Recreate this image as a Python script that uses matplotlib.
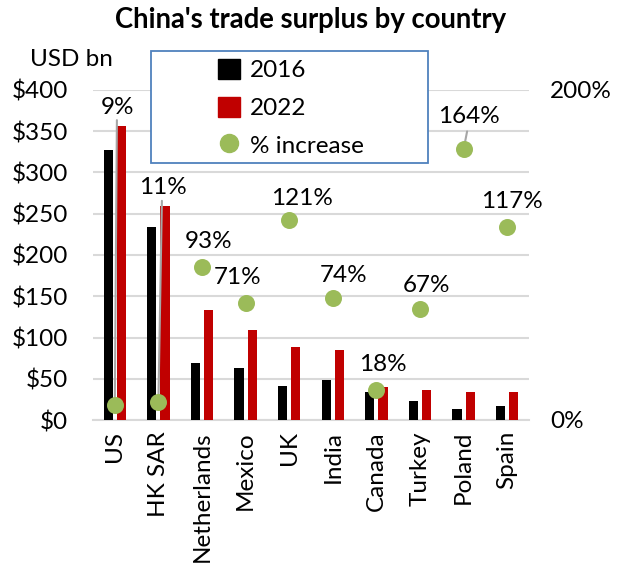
import matplotlib
matplotlib.use("Agg")
import matplotlib.pyplot as plt
from matplotlib.lines import Line2D
from matplotlib.patches import Patch, Rectangle
import numpy as np

countries = ["US", "HK SAR", "Netherlands", "Mexico", "UK", "India",
             "Canada", "Turkey", "Poland", "Spain"]
surplus_2016 = [327, 234, 69, 63, 41, 48, 34, 23, 13, 17]
surplus_2022 = [356, 259, 133, 109, 88, 85, 40, 36, 34, 34]
pct_increase = [9, 11, 93, 71, 121, 74, 18, 67, 164, 117]
left_ticks = [0, 50, 100, 150, 200, 250, 300, 350, 400]
right_ticks = [0, 200]

plt.rcParams['font.family'] = ['Lato', 'DejaVu Sans']
FS = 17.5

W, H = 622, 571
fig = plt.figure(figsize=(W / 100, H / 100), dpi=100)
x0, x1, yb, yt = 93, 529, 420, 90
ax = fig.add_axes([x0 / W, (H - yb) / H, (x1 - x0) / W, (yb - yt) / H])
ax2 = ax.twinx()

x = np.arange(len(countries))
bw = 0.21
ax.bar(x - 0.15, surplus_2016, bw, color="#000000", zorder=3)
ax.bar(x + 0.15, surplus_2022, bw, color="#C00000", zorder=3)
ax.set_xlim(-0.5, len(countries) - 0.5)
ax.set_ylim(0, 400)
ax.set_yticks(left_ticks)
ax.set_yticklabels([f"${v}" for v in left_ticks], fontsize=FS)
ax.yaxis.grid(True, color="#D9D9D9", linewidth=1.5, zorder=0)
ax.set_axisbelow(True)
ax.tick_params(axis="y", length=0, pad=18)
ax.set_xticks(x)
ax.set_xticklabels(countries, rotation=90, fontsize=FS)
ax.tick_params(axis="x", length=0, pad=8)
for s in ["top", "right", "left"]:
    ax.spines[s].set_visible(False)
ax.spines["bottom"].set_color("#D9D9D9")
ax.spines["bottom"].set_linewidth(1.5)

ax2.set_ylim(0, 200)
ax2.set_yticks(right_ticks)
ax2.set_yticklabels([f"{v}%" for v in right_ticks], fontsize=FS)
ax2.tick_params(axis="y", length=0, pad=15)
for s in ax2.spines.values():
    s.set_visible(False)
ax2.scatter(x, pct_increase, s=150, color="#9BBB59", zorder=5, linewidths=0)

# label offsets in pixels (dx, dy)
offs = [(3, 298), (5, 214), (7, 25), (-8, 25), (13, 22), (11, 22),
        (6, 26), (7, 24), (5, 33), (5, 25)]
for i, p in enumerate(pct_increase):
    dx, dy = offs[i]
    ax2.annotate(f"{p}%", xy=(x[i], p), xytext=(dx * 0.72, dy * 0.72),
                 textcoords="offset points", ha="center", va="center",
                 fontsize=FS, zorder=6)
    if dy > 30:
        top = dy - 13 if dy > 100 else dy - 15
        ax2.annotate("", xy=(x[i], p), xytext=(dx * 0.72 * 0.7, top * 0.72),
                     textcoords="offset points",
                     arrowprops=dict(arrowstyle="-", color="#A6A6A6", lw=1.5,
                                     shrinkA=0, shrinkB=0), zorder=4)

# legend frame
fig.patches.append(Rectangle((151 / W, 1 - 163 / H), (428 - 151) / W,
                             (163 - 51) / H, transform=fig.transFigure,
                             facecolor="white", edgecolor="#4F81BD",
                             linewidth=1.3, zorder=10))
handles = [Patch(color="#000000"), Patch(color="#C00000"),
           Line2D([], [], marker="o", linestyle="", color="#9BBB59",
                  markersize=13)]
leg = fig.legend(handles, ["2016", "2022", "% increase"],
                 loc="upper left", bbox_to_anchor=(218 / W, 1 - 59 / H),
                 frameon=False, fontsize=FS, handlelength=0.9,
                 handleheight=0.9, handletextpad=0.4, labelspacing=0.62,
                 borderpad=0.0, borderaxespad=0)
leg.set_zorder(11)

fig.text(311 / W, 1 - 20 / H, "China's trade surplus by country",
         ha="center", va="center", fontsize=19.8, fontweight="bold")
fig.text(30 / W, 1 - 60 / H, "USD bn", ha="left", va="center", fontsize=FS)

fig.savefig("out.png", dpi=100)
